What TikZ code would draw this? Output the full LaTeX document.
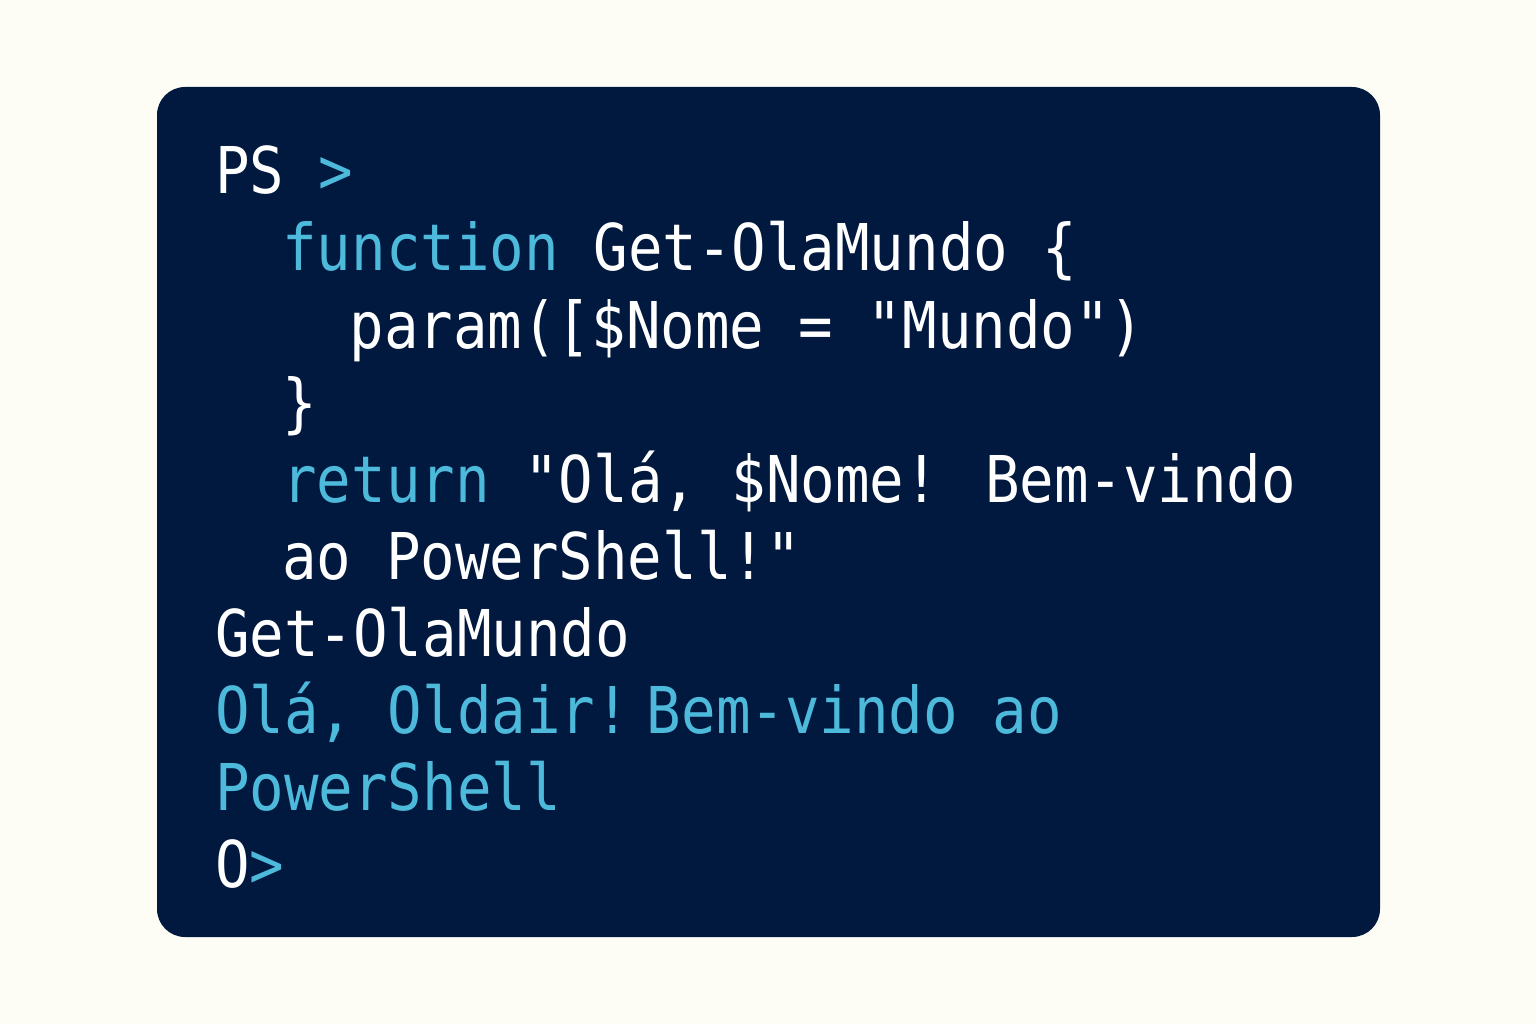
\documentclass[tikz,border=0pt]{standalone}
\usepackage{fontspec}
\newfontfamily\codefont[FakeStretch=0.89]{DejaVu Sans Mono}
\definecolor{pagebg}{HTML}{FDFDF5}
\definecolor{cardbg}{HTML}{01183F}
\definecolor{kw}{HTML}{4DB9DB}
\begin{document}
\begin{tikzpicture}[x=1pt,y=-1pt,
  codeline/.style={anchor=base west, inner sep=0pt, text=white,
    font=\codefont\fontsize{64.5}{77}\selectfont}]
\fill[pagebg] (0,0) rectangle (1536,1024);
\useasboundingbox (0,0) rectangle (1536,1024);
\fill[cardbg, rounded corners=28pt] (157,87) rectangle (1380,937);
\def\cw{33.6}
\def\xo{215}
\node[codeline] (l1) at (\xo,194) {PS \textcolor{kw}{>}};
\node[codeline] (l2) at ({\xo+2*\cw},271) {\textcolor{kw}{function} Get-OlaMundo \{};
\node[codeline] (l3) at ({\xo+4*\cw},348) {param([\$Nome = "Mundo")};
\node[codeline] (l4) at ({\xo+2*\cw},425) {\}};
\node[codeline] (l5) at ({\xo+2*\cw},502) {\textcolor{kw}{return} "Olá, \$Nome! Bem-vindo};
\node[codeline] (l6) at ({\xo+2*\cw},579) {ao PowerShell!"};
\node[codeline] (l7) at (\xo,656) {Get-OlaMundo};
\node[codeline, text=kw] (l8) at (\xo,733) {Olá, Oldair!\kern-0.45em{} Bem-vindo ao};
\node[codeline, text=kw] (l9) at (\xo,810) {PowerShell};
\node[codeline] (l10) at (\xo,887) {O\textcolor{kw}{>}};
\end{tikzpicture}
\end{document}
